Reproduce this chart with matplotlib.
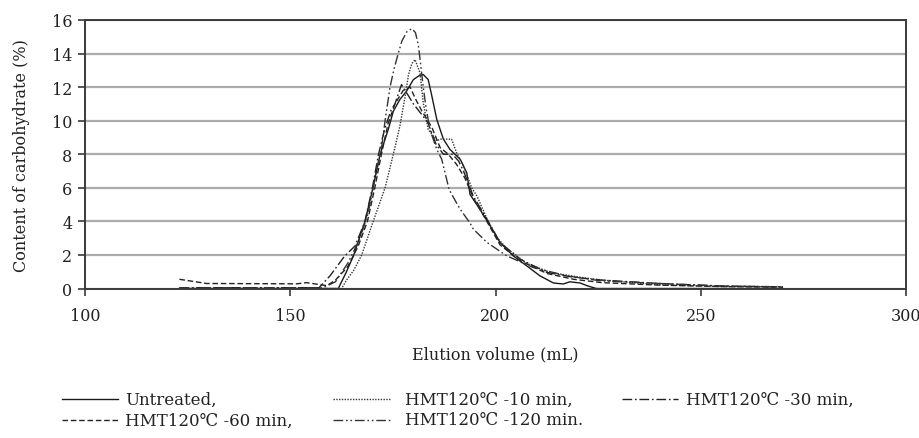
import matplotlib
matplotlib.use("Agg")
import matplotlib.pyplot as plt
from matplotlib.lines import Line2D

plt.rcParams['font.family'] = ['DejaVu Serif', 'DejaVu Sans', 'Noto Sans CJK JP']

# ---- data ----
x_untreated = [123, 161.7, 163.5, 165.4, 168.2, 170.1, 171.9, 173.9, 175.1, 176.7, 178.3, 180.0,
               181.5, 182.4, 183.6, 184.5, 185.7, 187.3, 188.9, 191.4, 193.0, 193.8, 196.2, 198.7,
               201.1, 204.3, 207.6, 210.8, 214.1, 216.5, 218.1, 220.6, 222.5, 224.6, 270]
y_untreated = [0, 0, 0.9, 1.95, 4.0, 5.95, 8.0, 9.5, 10.56, 11.26, 11.75, 12.45,
               12.7, 12.75, 12.45, 11.46, 10.07, 8.9, 8.29, 7.7, 6.9, 5.6, 4.72, 3.73,
               2.74, 1.95, 1.35, 0.76, 0.33, 0.27, 0.4, 0.33, 0.15, 0, 0]

x_10 = [123, 162.5, 163.7, 165.5, 167.4, 170.2, 173.1, 175.2, 176.7, 178.0, 178.8, 179.6, 180.4,
        181.6, 182.4, 183.6, 185.7, 186.5, 189.3, 190.5, 192.2, 194.2, 195.5, 198.2, 200.5,
        202.7, 207.6, 213.3, 220.6, 226, 240, 255, 270]
y_10 = [0, 0, 0.5, 1.1, 2.0, 4.0, 6.0, 8.1, 9.67, 11.46, 12.74, 13.4, 13.64,
        12.85, 11.06, 9.48, 8.8, 8.9, 8.9, 8.1, 7.3, 6.0, 5.5, 4.0, 3.0,
        2.4, 1.5, 0.96, 0.67, 0.5, 0.22, 0.12, 0.1]

x_30 = [123, 157, 159.7, 163.3, 165.8, 168.2, 170.0, 171.5, 173.0, 174.5, 175.5, 177.1, 178.5,
        180.0, 181.6, 183.5, 185.5, 187.3, 189.5, 191.0, 192.2, 194.6, 197.9, 201.1, 206,
        212.5, 219, 226, 240, 255, 270]
y_30 = [0.05, 0.05, 0.76, 1.95, 2.54, 4.0, 6.0, 8.0, 9.5, 10.6, 11.0, 12.15, 11.6,
        11.0, 10.5, 9.9, 8.6, 8.0, 8.0, 7.6, 7.0, 5.5, 4.13, 2.74, 1.75,
        0.96, 0.67, 0.5, 0.3, 0.15, 0.1]

x_60 = [123, 129.6, 151.6, 154, 158.9, 161, 164, 166.5, 168.8, 170.6, 172.2, 173.8, 175.5,
        177.5, 179.2, 180.5, 182, 184.5, 186.5, 188.5, 190.5, 192.5, 194.6, 197.9, 201.1,
        206, 212.5, 219, 226, 240, 255, 270]
y_60 = [0.55, 0.3, 0.28, 0.35, 0.17, 0.5, 1.3, 2.5, 4.0, 6.0, 8.0, 9.8, 11.0,
        11.8, 12.0, 11.3, 10.6, 9.6, 8.4, 8.0, 7.4, 6.6, 5.4, 4.0, 2.6,
        1.65, 0.9, 0.55, 0.35, 0.2, 0.12, 0.08]

x_120 = [123, 158, 161, 164, 167, 169, 171, 172.3, 173.1, 174.3, 175.3, 176.3, 177.2, 178.4,
         179.6, 180.5, 181.2, 181.7, 182.4, 183.0, 184.0, 185.7, 186.9, 188.7, 190.5, 191.4,
         193.8, 194.6, 197.9, 202.7, 209.1, 217.3, 225.5, 240, 255, 270]
y_120 = [0.05, 0.05, 0.4, 1.5, 3.0, 4.5, 7.0, 8.5, 10.0, 12.0, 13.1, 14.0, 14.75, 15.3,
         15.48, 15.25, 14.5, 13.5, 12.0, 10.9, 9.48, 8.29, 7.7, 5.9, 5.1, 4.72,
         3.9, 3.54, 2.75, 1.95, 1.26, 0.76, 0.46, 0.3, 0.15, 0.1]

labels = ["Untreated,", "HMT120\u2103 -10 min,", "HMT120\u2103 -30 min,",
          "HMT120\u2103 -60 min,", "HMT120\u2103 -120 min."]
x_ticks = [100, 150, 200, 250, 300]
y_ticks = [0, 2, 4, 6, 8, 10, 12, 14, 16]

styles = ['-', (0, (1, 1)), (0, (7, 2, 1.2, 2)), (0, (4, 2)), (0, (7, 2, 1.2, 2, 1.2, 2))]
colors = ['#1a1a1a', '#333333', '#222222', '#222222', '#333333']

series = [(x_untreated, y_untreated), (x_10, y_10), (x_30, y_30), (x_60, y_60), (x_120, y_120)]

fig = plt.figure(figsize=(9.2, 4.39), dpi=100)
ax = fig.add_axes([0.0924, 0.3405, 0.8924, 0.6117])

for (xs, ys), ls, c in zip(series, styles, colors):
    ax.plot(xs, ys, linestyle=ls, color=c, lw=1.0)

ax.set_xlim(100, 300)
ax.set_ylim(0, 16)
ax.set_xticks(x_ticks)
ax.set_yticks(y_ticks)
ax.yaxis.grid(True, color='#acacac', lw=1.6)
ax.set_axisbelow(True)
for s in ax.spines.values():
    s.set_color('#3a3a3a')
    s.set_linewidth(1.4)
ax.tick_params(direction='out', length=5, width=1.2, color='#3a3a3a', labelsize=11.5,
               labelcolor='#222222', pad=4)
ax.tick_params(axis='x', pad=8)
ax.set_xlabel("Elution volume (mL)", fontsize=11.5, color='#222222', labelpad=16)
ax.set_ylabel("Content of carbohydrate (%)", fontsize=11.5, color='#222222', labelpad=16)

# manual legend
W, H = 920, 439
rows_y = [400, 421]
cols = [(62, 118, 125), (333, 390, 405), (622, 678, 686)]
positions = [(0, 0), (0, 1), (0, 2), (1, 0), (1, 1)]
for i, (r, cidx) in enumerate(positions):
    x0, x1, xt = cols[cidx]
    yy = 1 - rows_y[r] / H
    fig.add_artist(Line2D([x0 / W, x1 / W], [yy, yy], transform=fig.transFigure,
                          linestyle=styles[i], color=colors[i], lw=1.0))
    fig.text(xt / W, yy, labels[i], fontsize=12, va='center', ha='left', color='#222222')

fig.savefig("out.png", dpi=100)
